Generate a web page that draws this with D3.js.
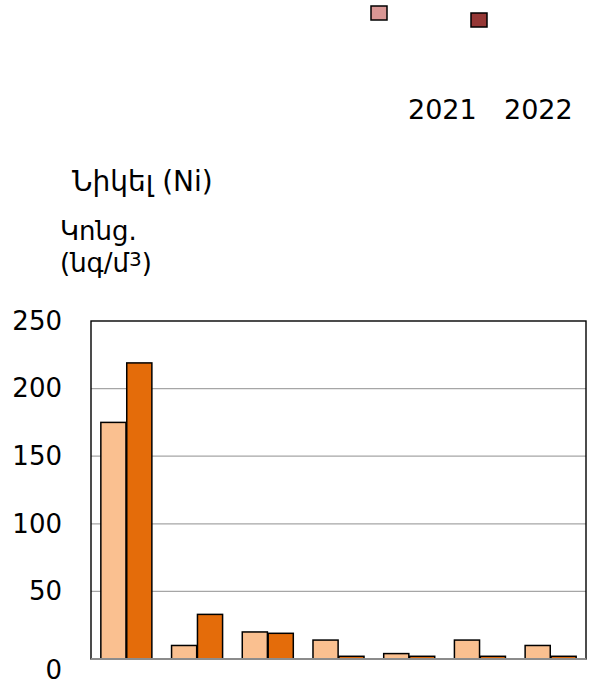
<!DOCTYPE html>
<html>
<head>
<meta charset="utf-8">
<script src="https://cdn.jsdelivr.net/npm/d3@7"></script>
<style>
  body { margin: 0; background: #fff; }
  svg { font-family: "DejaVu Sans", sans-serif; }
</style>
</head>
<body>
<div id="chart"></div>
<script>
// data (no category labels are shown)
var categories = ["1", "2", "3", "4", "5", "6", "7"];
var seriesNames = ["2021", "2022"];
var values2021 = [175, 10, 20, 14, 4, 14, 10];
var values2022 = [219, 33, 19, 2, 2, 2, 2];
var yTicks = [0, 50, 100, 150, 200, 250];

var barColors = ["#fac090", "#e46c0a"];
var legendColors = ["#d99694", "#953735"];

var width = 589,
    height = 686,
    margin = {top: 321, right: 3, bottom: 27, left: 91};

var svg = d3.select('#chart')
    .append('svg')
    .attr('width', width)
    .attr('height', height);

var x0 = d3.scaleBand()
    .domain(categories)
    .range([margin.left, width - margin.right])
    .padding(0);

var x1 = d3.scaleBand()
    .domain(seriesNames)
    .range([0, x0.bandwidth()])
    .paddingInner(0.03)
    .paddingOuter(0.38);

var y = d3.scaleLinear()
    .domain([0, 250])
    .range([height - margin.bottom, margin.top]);

// gridlines
svg.append('g')
    .selectAll('line')
    .data(yTicks.filter(function(d) { return d > 0 && d < 250; }))
    .enter().append('line')
    .attr('x1', margin.left)
    .attr('x2', width - margin.right)
    .attr('y1', function(d) { return y(d); })
    .attr('y2', function(d) { return y(d); })
    .attr('stroke', '#a6a6a6')
    .attr('stroke-width', 1.3);

// frame
svg.append('rect')
    .attr('x', margin.left)
    .attr('y', margin.top)
    .attr('width', width - margin.left - margin.right)
    .attr('height', height - margin.top - margin.bottom)
    .attr('fill', 'none')
    .attr('stroke', '#000')
    .attr('stroke-width', 1.4);

// bars
var rows = categories.map(function(c, i) {
    return {cat: c, vals: [values2021[i], values2022[i]]};
});

var group = svg.append('g').selectAll('g')
    .data(rows)
    .enter().append('g')
    .attr('transform', function(d) { return 'translate(' + x0(d.cat) + ',0)'; });

group.selectAll('rect')
    .data(function(d) {
        return d.vals.map(function(v, j) { return {s: seriesNames[j], v: v, j: j}; });
    })
    .enter().append('rect')
    .attr('x', function(d) { return x1(d.s); })
    .attr('width', x1.bandwidth())
    .attr('y', function(d) { return y(d.v); })
    .attr('height', function(d) { return y(0) - y(d.v); })
    .attr('fill', function(d) { return barColors[d.j]; })
    .attr('stroke', '#000')
    .attr('stroke-width', 1.5);

// bottom axis line
svg.append('line')
    .attr('x1', margin.left)
    .attr('x2', width - margin.right)
    .attr('y1', y(0))
    .attr('y2', y(0))
    .attr('stroke', '#8c8c8c')
    .attr('stroke-width', 2);

// y axis labels
var yAxis = d3.axisLeft(y)
    .tickValues(yTicks)
    .tickSize(0)
    .tickPadding(29);

var ya = svg.append('g')
    .attr('transform', 'translate(' + margin.left + ',0)')
    .call(yAxis);
ya.select('.domain').remove();
ya.selectAll('text')
    .attr('font-family', '"DejaVu Sans", sans-serif')
    .attr('font-size', 26)
    .attr('fill', '#000');
// the zero label sits a little below the baseline in the original
ya.selectAll('.tick')
    .filter(function(d) { return d === 0; })
    .select('text')
    .attr('dy', '0.75em');

// titles
svg.append('text')
    .attr('x', 72)
    .attr('y', 191)
    .attr('font-size', 28)
    .text('Նիկել (Ni)');

svg.append('text')
    .attr('x', 60)
    .attr('y', 240)
    .attr('font-size', 26)
    .text('Կոնց.');

var l2 = svg.append('text')
    .attr('x', 60)
    .attr('y', 272)
    .attr('font-size', 26);
l2.append('tspan')
    .text('(նգ/մ');
l2.append('tspan')
    .attr('dy', -6)
    .attr('font-size', 20)
    .text('3');
l2.append('tspan')
    .attr('dy', 6)
    .text(')');

// legend
var legendSwatches = [{x: 371, y: 6}, {x: 471, y: 13}];
svg.append('g').selectAll('rect')
    .data(seriesNames)
    .enter().append('rect')
    .attr('x', function(d, i) { return legendSwatches[i].x; })
    .attr('y', function(d, i) { return legendSwatches[i].y; })
    .attr('width', 16)
    .attr('height', 14)
    .attr('fill', function(d, i) { return legendColors[i]; })
    .attr('stroke', '#000')
    .attr('stroke-width', 1.5);

svg.append('g').selectAll('text')
    .data(seriesNames)
    .enter().append('text')
    .attr('x', function(d, i) { return 408 + i * 96; })
    .attr('y', 119)
    .attr('font-size', 27)
    .text(function(d) { return d; });
</script>
</body>
</html>
